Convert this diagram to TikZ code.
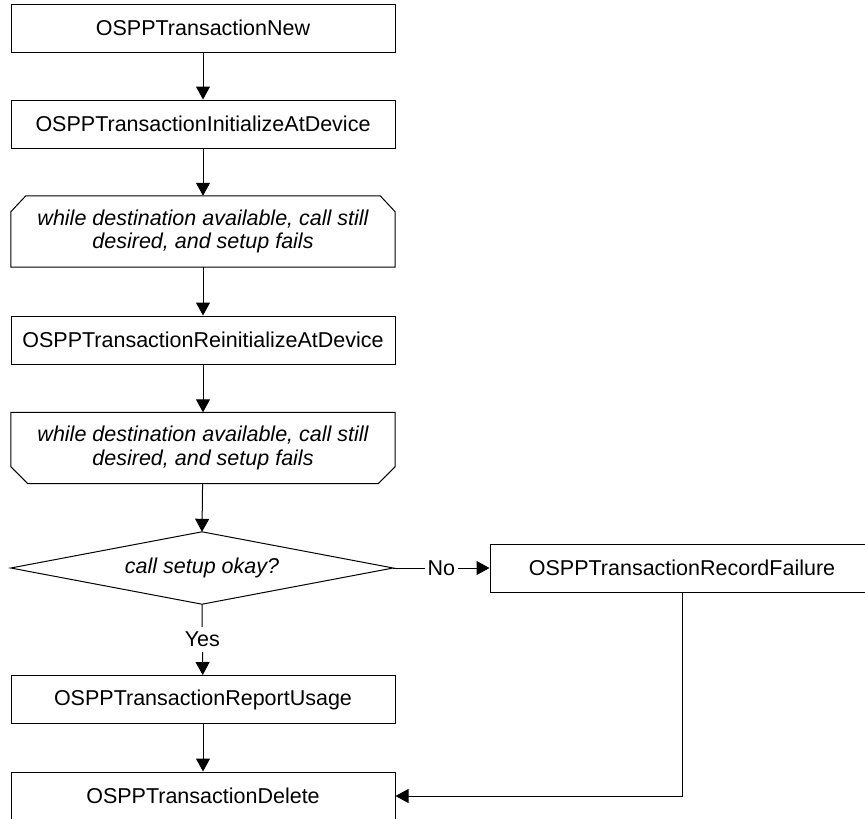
\documentclass[tikz,border=0pt]{standalone}
\usepackage{fontspec}
\setmainfont{Liberation Sans}
\usetikzlibrary{arrows.meta}
\begin{document}
\begin{tikzpicture}[x=1pt,y=-1pt,
  every node/.style={font=\fontsize{21.5}{23.5}\selectfont},
  proc/.style={draw, line width=1pt, minimum width=384pt, minimum height=48pt, inner sep=0pt},
  loopbox/.style={minimum width=384pt, minimum height=71pt, inner sep=0pt, align=center,
    font=\fontsize{21.5}{23.5}\selectfont\itshape},
  decbox/.style={minimum width=382pt, minimum height=72pt, inner sep=0pt,
    font=\fontsize{21.5}{23.5}\selectfont\itshape},
  outline/.style={line width=1pt},
  flow/.style={line width=1pt, -{Triangle[length=13pt,width=14pt]}},
  lbl/.style={fill=white, inner xsep=3pt, inner ysep=5pt}
]
\clip (0,0) rectangle (865,819);
\useasboundingbox (0,0) rectangle (865,819);

% process boxes
\node[proc] (new)    at (203,28)    {OSPPTransactionNew};
\node[proc] (init)   at (203,124)   {OSPPTransactionInitializeAtDevice};
\node[proc] (reinit) at (203,340)   {OSPPTransactionReinitializeAtDevice};
\node[proc] (report) at (203,699.5) {OSPPTransactionReportUsage};
\node[proc] (del)    at (203,796)   {OSPPTransactionDelete};
\node[proc] (fail)   at (682,568)   {OSPPTransactionRecordFailure};

% loop limits
\node[loopbox] (loopa) at (203,231.5) {while destination available, call still\\desired, and setup fails};
\node[loopbox] (loopb) at (203,448)   {while destination available, call still\\desired, and setup fails};
\draw[outline] (loopa.south west) -- ([yshift=-16pt]loopa.north west) -- ([xshift=15pt]loopa.north west)
  -- ([xshift=-15pt]loopa.north east) -- ([yshift=-16pt]loopa.north east) -- (loopa.south east) -- cycle;
\draw[outline] (loopb.north west) -- (loopb.north east) -- ([yshift=17pt]loopb.south east)
  -- ([xshift=-17pt]loopb.south east) -- ([xshift=17pt]loopb.south west) -- ([yshift=17pt]loopb.south west) -- cycle;

% decision
\node[decbox] (dec) at (202,568) {call setup okay?};
\draw[outline] (dec.north) -- (dec.east) -- (dec.south) -- (dec.west) -- cycle;

% connectors
\draw[flow] (new) -- (init);
\draw[flow] (init) -- (loopa);
\draw[flow] (loopa) -- (reinit);
\draw[flow] (reinit) -- (loopb);
\draw[flow] (loopb) -- (dec.north);
\draw[flow] (dec.south) -- node[lbl] {Yes} (report);
\draw[flow] (dec.east) -- node[lbl] {No} (fail.west);
\draw[flow] (report) -- (del);
\draw[flow] (fail.south) |- (del.east);
\end{tikzpicture}
\end{document}
